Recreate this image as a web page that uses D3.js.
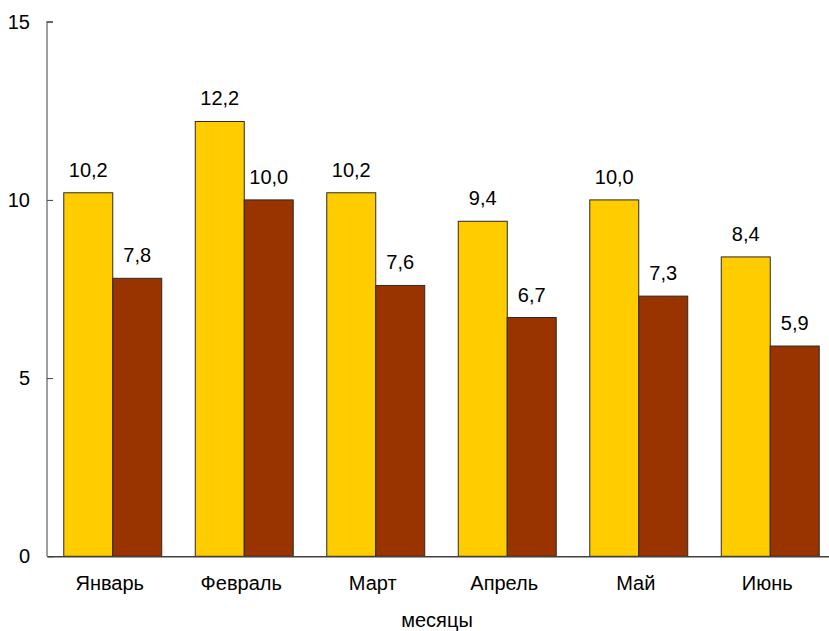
<!DOCTYPE html>
<html>
<head>
<meta charset="utf-8">
<script src="https://cdn.jsdelivr.net/npm/d3@7"></script>
<style>
  html, body { margin: 0; padding: 0; background: #fff; }
  svg { display: block; font-family: "Liberation Sans", Arial, sans-serif; }
</style>
</head>
<body>
<div id="chart"></div>
<script>
  // ── Data ────────────────────────────────────────────────────────────────
  const MONTHS = ['Январь', 'Февраль', 'Март', 'Апрель', 'Май', 'Июнь'];
  const SERIES_A = [10.2, 12.2, 10.2, 9.4, 10.0, 8.4];
  const SERIES_B = [7.8, 10.0, 7.6, 6.7, 7.3, 5.9];
  const Y_TICKS = [0, 5, 10, 15];
  const COLORS = ['#ffcc00', '#993300'];

  const width = 829, height = 631;
  const x0 = 47, x1 = 836, yTop = 21.7, yBottom = 556.3;
  const FONT = 20;

  const svg = d3.select('#chart').append('svg')
    .attr('width', width).attr('height', height);

  const x = d3.scaleBand()
    .domain(MONTHS)
    .range([x0, x1])
    .paddingInner(0.255)
    .paddingOuter(0.1275);

  const xSub = d3.scaleBand()
    .domain([0, 1])
    .range([0, x.bandwidth()]);

  const y = d3.scaleLinear().domain([0, 15]).range([yBottom, yTop]);

  const fmt = v => v.toFixed(1).replace('.', ',');

  // Bars
  const rows = MONTHS.map((m, i) => ({ month: m, vals: [SERIES_A[i], SERIES_B[i]] }));
  const groups = svg.selectAll('.grp').data(rows).enter().append('g')
    .attr('transform', d => `translate(${x(d.month)},0)`);

  groups.selectAll('rect')
    .data(d => d.vals.map((v, k) => ({ v, k })))
    .enter().append('rect')
    .attr('x', d => xSub(d.k))
    .attr('y', d => y(d.v))
    .attr('width', xSub.bandwidth())
    .attr('height', d => y(0) - y(d.v))
    .attr('fill', d => COLORS[d.k])
    .attr('stroke', '#2a2a2a')
    .attr('stroke-width', 1);

  groups.selectAll('text')
    .data(d => d.vals.map((v, k) => ({ v, k })))
    .enter().append('text')
    .attr('x', d => xSub(d.k) + xSub.bandwidth() / 2)
    .attr('y', d => y(d.v) - 16)
    .attr('text-anchor', 'middle')
    .attr('font-size', FONT)
    .attr('fill', '#000')
    .text(d => fmt(d.v));

  // Y axis
  const yAxis = svg.append('g')
    .attr('transform', `translate(${x0},0)`)
    .call(d3.axisRight(y).tickValues(Y_TICKS).tickSize(6).tickFormat(''));
  yAxis.select('.domain').attr('stroke', '#808080').attr('stroke-width', 1.5)
    .attr('d', `M6,${yTop}H0V${yBottom}`);
  yAxis.selectAll('.tick line').attr('stroke', '#404040');

  svg.append('g').selectAll('text')
    .data(Y_TICKS).enter().append('text')
    .attr('x', 30)
    .attr('y', d => y(d))
    .attr('dy', '0.35em')
    .attr('text-anchor', 'end')
    .attr('font-size', FONT)
    .text(d => d);

  // X axis
  const xAxis = svg.append('g')
    .attr('transform', `translate(0,${yBottom})`)
    .call(d3.axisBottom(x).tickSize(0).tickPadding(0));
  xAxis.select('.domain').attr('stroke', '#404040').attr('stroke-width', 1.5);
  xAxis.selectAll('.tick text')
    .attr('font-size', FONT)
    .attr('font-family', '"Liberation Sans", Arial, sans-serif')
    .attr('fill', '#000')
    .attr('dy', 0)
    .attr('x', -3)
    .attr('y', 34);

  svg.append('text')
    .attr('x', 437)
    .attr('y', 627)
    .attr('text-anchor', 'middle')
    .attr('font-size', FONT)
    .text('месяцы');
</script>
</body>
</html>
